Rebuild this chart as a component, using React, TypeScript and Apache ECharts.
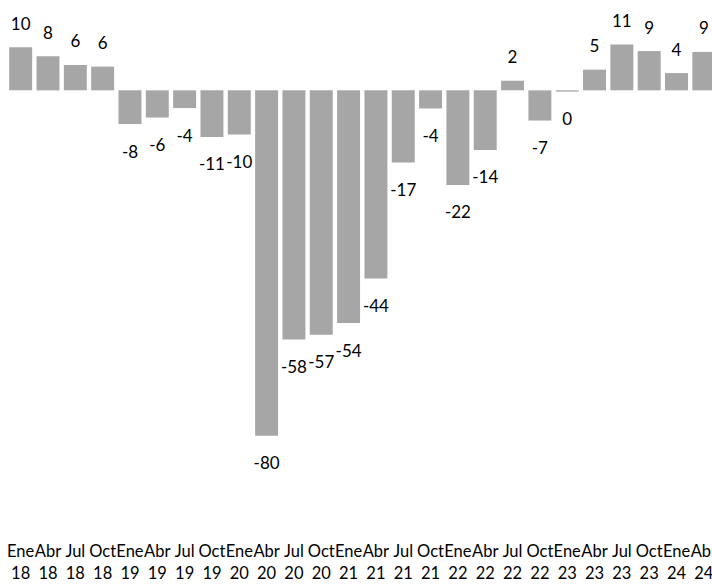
import React, { useEffect, useRef } from "react";
import * as echarts from "echarts";

const tickLabels = [
  "Ene\n18", "Abr\n18", "Jul\n18", "Oct\n18",
  "Ene\n19", "Abr\n19", "Jul\n19", "Oct\n19",
  "Ene\n20", "Abr\n20", "Jul\n20", "Oct\n20",
  "Ene\n21", "Abr\n21", "Jul\n21", "Oct\n21",
  "Ene\n22", "Abr\n22", "Jul\n22", "Oct\n22",
  "Ene\n23", "Abr\n23", "Jul\n23", "Oct\n23",
  "Ene\n24", "Abr\n24",
];

const values = [
  10.0, 7.9, 5.9, 5.5,
  -7.8, -6.3, -4.1, -10.8,
  -10.2, -80.0, -57.7, -56.6,
  -53.9, -43.6, -16.7, -4.2,
  -21.9, -13.8, 2.2, -7.0,
  -0.3, 4.8, 10.6, 9.1,
  4.0, 8.9,
];

const FONT = "Lato, sans-serif";

export default function App() {
  const ref = useRef<HTMLDivElement>(null);

  useEffect(() => {
    document.body.style.margin = "0";
    document.body.style.overflow = "hidden";
    if (!ref.current) return;
    const chart = echarts.init(ref.current, undefined, { renderer: "svg" });
    chart.setOption({
      animation: false,
      backgroundColor: "#ffffff",
      grid: { left: 7, right: 1, top: 25.6, bottom: 57, containLabel: false },
      xAxis: {
        type: "category",
        data: tickLabels,
        axisLine: { show: false },
        axisTick: { show: false },
        axisLabel: {
          interval: 0,
          fontSize: 16.5,
          lineHeight: 22,
          color: "#000000",
          fontFamily: FONT,
          margin: 18,
        },
      },
      yAxis: {
        type: "value",
        min: -100,
        max: 15,
        show: false,
        splitLine: { show: false },
      },
      series: [
        {
          type: "bar",
          barCategoryGap: "16%",
          itemStyle: { color: "#a6a6a6" },
          label: {
            show: true,
            fontSize: 17,
            lineHeight: 18,
            color: "#000000",
            fontFamily: FONT,
            formatter: (p: any) => String(Math.round(p.value)),
          },
          data: values.map((v) => ({
            value: v,
            label: {
              position: v >= 0 ? "top" : "bottom",
              distance: v >= 0 ? 15 : 18,
            },
          })),
        },
      ],
    });
    return () => chart.dispose();
  }, []);

  return (
    <div style={{ width: 712, height: 584, overflow: "hidden", position: "relative" }}>
      <div ref={ref} style={{ width: 720, height: 584, position: "absolute", left: 0, top: 0 }} />
    </div>
  );
}
